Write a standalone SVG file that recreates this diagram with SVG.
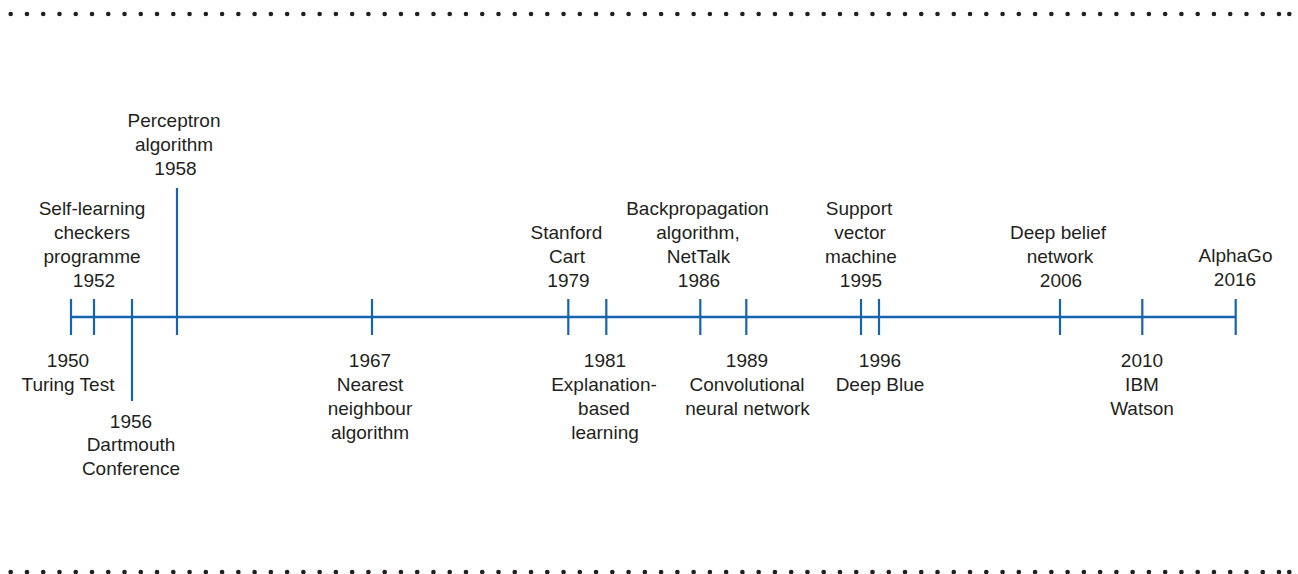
<svg xmlns="http://www.w3.org/2000/svg" width="1298" height="574" viewBox="0 0 1298 574">
<style>
.lbl{font-family:"Liberation Sans",Arial,Helvetica,sans-serif;font-size:19px;fill:#231f20;text-anchor:middle}
.tick{stroke:#1464b0;stroke-width:2.2;fill:none}
.axis{stroke:#1464b0;stroke-width:2.4;fill:none}
.dots{stroke:#231f20;stroke-width:4.6;stroke-linecap:round;stroke-dasharray:0 16.26;fill:none}
</style>
<rect width="1298" height="574" fill="#ffffff"/>
<g id="borders">
<line class="dots" x1="10.7" y1="14" x2="1280" y2="14"/>
<circle cx="1289.3" cy="14" r="2.3" fill="#231f20"/>
<line class="dots" x1="10.7" y1="572" x2="1280" y2="572"/>
<circle cx="1289.3" cy="572" r="2.3" fill="#231f20"/>
</g>
<g id="connectors">
<line class="axis" x1="71" y1="317" x2="1236" y2="317"/>
</g>
<g id="n1950">
<line class="tick" x1="71" y1="299" x2="71" y2="335"/>
<text class="lbl" x="68" y="367">1950</text>
<text class="lbl" x="68" y="391">Turing Test</text>
</g>
<g id="n1952">
<line class="tick" x1="94" y1="299" x2="94" y2="335"/>
<text class="lbl" x="92" y="215">Self-learning</text>
<text class="lbl" x="92" y="239">checkers</text>
<text class="lbl" x="92" y="263">programme</text>
<text class="lbl" x="94" y="286.5">1952</text>
</g>
<g id="n1956">
<line class="tick" x1="132" y1="299" x2="132" y2="401"/>
<text class="lbl" x="131" y="427.5">1956</text>
<text class="lbl" x="131" y="451">Dartmouth</text>
<text class="lbl" x="131" y="475">Conference</text>
</g>
<g id="n1958">
<line class="tick" x1="177" y1="188" x2="177" y2="335"/>
<text class="lbl" x="174" y="127">Perceptron</text>
<text class="lbl" x="174" y="151">algorithm</text>
<text class="lbl" x="175.5" y="174.5">1958</text>
</g>
<g id="n1967">
<line class="tick" x1="372" y1="299" x2="372" y2="335"/>
<text class="lbl" x="370" y="367">1967</text>
<text class="lbl" x="370" y="391">Nearest</text>
<text class="lbl" x="370" y="414.5">neighbour</text>
<text class="lbl" x="370" y="438.5">algorithm</text>
</g>
<g id="n1979">
<line class="tick" x1="568.3" y1="299" x2="568.3" y2="335"/>
<text class="lbl" x="566.5" y="239">Stanford</text>
<text class="lbl" x="567" y="263">Cart</text>
<text class="lbl" x="568.5" y="286.5">1979</text>
</g>
<g id="n1981">
<line class="tick" x1="606.3" y1="299" x2="606.3" y2="335"/>
<text class="lbl" x="605" y="367">1981</text>
<text class="lbl" x="604" y="391">Explanation-</text>
<text class="lbl" x="604" y="414.5">based</text>
<text class="lbl" x="605" y="438.5">learning</text>
</g>
<g id="n1986">
<line class="tick" x1="700.3" y1="299" x2="700.3" y2="335"/>
<text class="lbl" x="697.5" y="215">Backpropagation</text>
<text class="lbl" x="698" y="239">algorithm,</text>
<text class="lbl" x="698.5" y="263">NetTalk</text>
<text class="lbl" x="699" y="286.5">1986</text>
</g>
<g id="n1989">
<line class="tick" x1="746.3" y1="299" x2="746.3" y2="335"/>
<text class="lbl" x="747" y="367">1989</text>
<text class="lbl" x="747" y="391">Convolutional</text>
<text class="lbl" x="747.5" y="414.5">neural network</text>
</g>
<g id="n1995">
<line class="tick" x1="861" y1="299" x2="861" y2="335"/>
<text class="lbl" x="859" y="215">Support</text>
<text class="lbl" x="860" y="239">vector</text>
<text class="lbl" x="861" y="263">machine</text>
<text class="lbl" x="861" y="286.5">1995</text>
</g>
<g id="n1996">
<line class="tick" x1="879" y1="299" x2="879" y2="335"/>
<text class="lbl" x="880" y="367">1996</text>
<text class="lbl" x="880" y="391">Deep Blue</text>
</g>
<g id="n2006">
<line class="tick" x1="1060" y1="299" x2="1060" y2="335"/>
<text class="lbl" x="1058" y="239">Deep belief</text>
<text class="lbl" x="1060" y="263">network</text>
<text class="lbl" x="1061" y="286.5">2006</text>
</g>
<g id="n2010">
<line class="tick" x1="1142.3" y1="299" x2="1142.3" y2="335"/>
<text class="lbl" x="1142" y="367">2010</text>
<text class="lbl" x="1142" y="391">IBM</text>
<text class="lbl" x="1142" y="414.5">Watson</text>
</g>
<g id="n2016">
<line class="tick" x1="1235.7" y1="299" x2="1235.7" y2="335"/>
<text class="lbl" x="1235.5" y="262">AlphaGo</text>
<text class="lbl" x="1235" y="286">2016</text>
</g>
</svg>
